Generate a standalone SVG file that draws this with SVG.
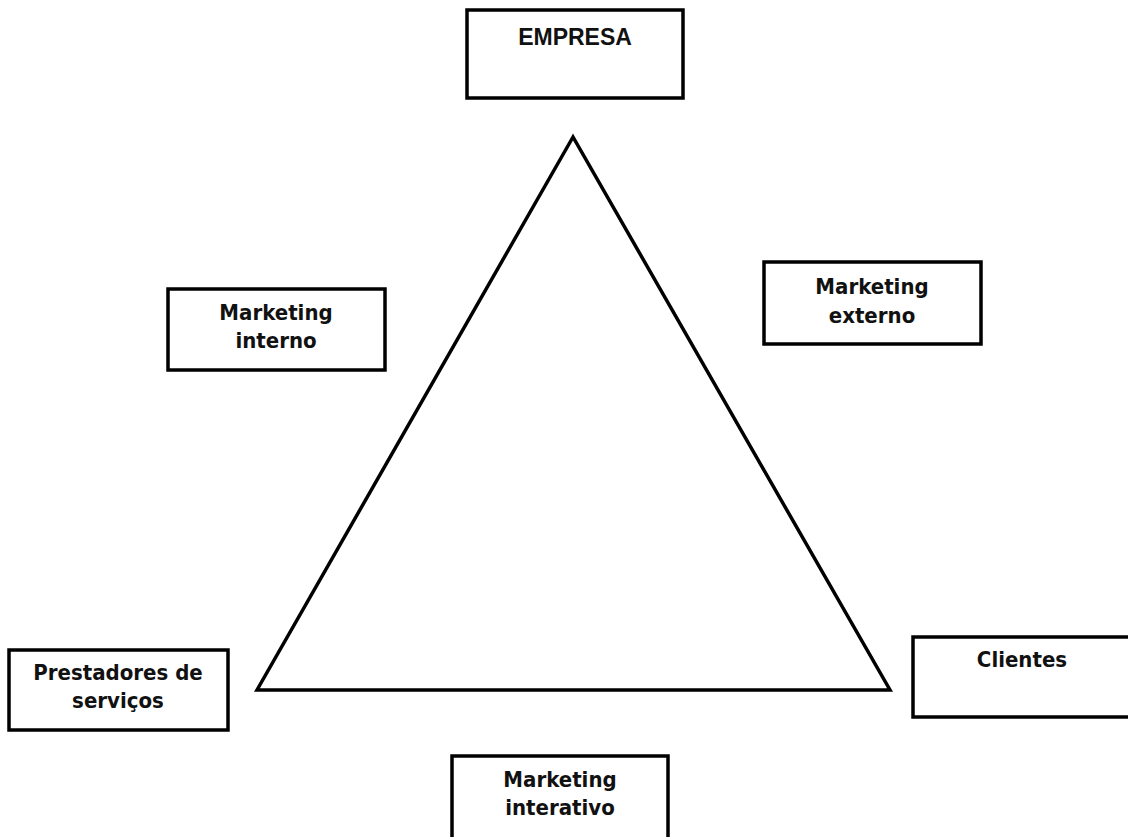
<svg xmlns="http://www.w3.org/2000/svg" width="1128" height="837" viewBox="0 0 1128 837">
  <style>
    .box { fill: #ffffff; stroke: #000000; stroke-width: 3.5; }
    .lbl { font-family: "DejaVu Sans Condensed", "DejaVu Sans", sans-serif; font-weight: bold; font-size: 22px; fill: #111111; text-anchor: middle; }
    .caps { font-family: "Liberation Sans", Arial, sans-serif; font-weight: bold; font-size: 23px; fill: #111111; text-anchor: middle; }
    .edge { fill: none; stroke: #000000; stroke-width: 3.5; stroke-linejoin: miter; }
  </style>
  <rect width="1128" height="837" fill="#ffffff"/>

  <!-- service marketing triangle -->
  <g id="connectors">
    <polygon class="edge" points="573,137 257,690 890,690"/>
  </g>

  <g id="empresa">
    <rect class="box" x="467" y="10" width="216" height="88"/>
    <text class="caps" x="575" y="45">EMPRESA</text>
  </g>

  <g id="marketing-interno">
    <rect class="box" x="168" y="289" width="217" height="81"/>
    <text class="lbl" x="276" y="320">Marketing</text>
    <text class="lbl" x="276" y="348">interno</text>
  </g>

  <g id="marketing-externo">
    <rect class="box" x="764" y="262" width="217" height="82"/>
    <text class="lbl" x="872" y="294">Marketing</text>
    <text class="lbl" x="872" y="323">externo</text>
  </g>

  <g id="prestadores">
    <rect class="box" x="9" y="650" width="219" height="80"/>
    <text class="lbl" x="118" y="680">Prestadores de</text>
    <text class="lbl" x="118" y="708">serviços</text>
  </g>

  <g id="clientes">
    <rect class="box" x="913" y="637" width="220" height="80"/>
    <text class="lbl" x="1022" y="667">Clientes</text>
  </g>

  <g id="marketing-interativo">
    <rect class="box" x="452" y="756" width="216" height="90"/>
    <text class="lbl" x="560" y="787">Marketing</text>
    <text class="lbl" x="560" y="815">interativo</text>
  </g>
</svg>
